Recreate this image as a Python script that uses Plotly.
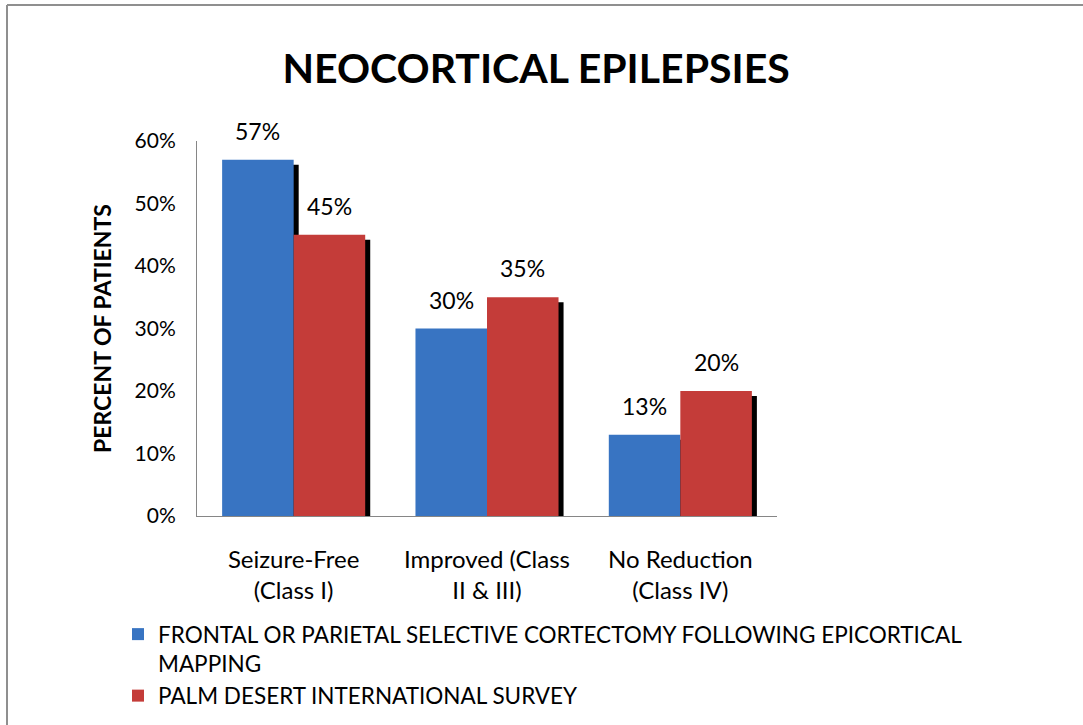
import plotly.graph_objects as go

categories = ["Seizure-Free<br>(Class I)", "Improved (Class<br>II & III)", "No Reduction<br>(Class IV)"]
series_names = ["FRONTAL OR PARIETAL SELECTIVE CORTECTOMY FOLLOWING EPICORTICAL<br>MAPPING",
                "PALM DESERT INTERNATIONAL SURVEY"]
frontal = [0.57, 0.30, 0.13]
palm = [0.45, 0.35, 0.20]
y_ticks = [0, 0.1, 0.2, 0.3, 0.4, 0.5, 0.6]

FONT = "Lato"
colors = ["#3874C2", "#C43C39"]
W = 0.37
SH = 0.026
SHY = 0.008
xs = list(range(len(categories)))

fig = go.Figure()
for i, (vals, name, col) in enumerate([(frontal, series_names[0], colors[0]), (palm, series_names[1], colors[1])]):
    off = -W if i == 0 else 0
    fig.add_trace(go.Bar(x=xs, y=[v - SHY for v in vals], width=W, offset=off + SH,
                         marker=dict(color="black", line_width=0), showlegend=False, hoverinfo="skip"))
    fig.add_trace(go.Bar(x=xs, y=vals, width=W, offset=off, name=name,
                         marker=dict(color=col, line_width=0)))
    for x, v in zip(xs, vals):
        fig.add_annotation(x=x, y=v, text=f"{round(v*100)}%", showarrow=False,
                           xshift=(-W / 2 if i == 0 else W / 2) * 193.3, yshift=29,
                           font=dict(family=FONT, size=23, color="#000"))

PL, PW, PB, PH = 197, 580, 516, 375
fig.update_layout(
    width=1083, height=725,
    margin=dict(l=197, r=306, t=141, b=209, autoexpand=False),
    barmode="overlay",
    paper_bgcolor="white", plot_bgcolor="white",
    title=dict(text="<b>NEOCORTICAL EPILEPSIES</b>", x=0.495, xanchor="center", y=0.905, yanchor="middle",
               font=dict(family=FONT, size=41, color="#000")),
    font=dict(family=FONT, size=21, color="#000"),
    xaxis=dict(range=[-0.5, 2.5], tickvals=xs, ticktext=categories, showline=True, linecolor="#868686",
               linewidth=1, showgrid=False, zeroline=False, ticks="", tickfont=dict(size=24),
               ticklabelstandoff=22, automargin=False),
    yaxis=dict(range=[0, 0.6], tickvals=y_ticks, tickformat=".0%", showline=True, linecolor="#868686",
               linewidth=1, showgrid=False, zeroline=False, ticks="", ticklen=0, ticklabelstandoff=16,
               title=dict(text="<b>PERCENT OF PATIENTS</b>", font=dict(size=23), standoff=16),
               tickfont=dict(size=21), automargin=False),
    legend=dict(x=(118 - PL) / PW, xanchor="left", y=-(613 - PB) / PH, yanchor="top",
                font=dict(family=FONT, size=22.5), tracegroupgap=0, itemclick=False, valign="top"),
    shapes=[
        dict(type="line", xref="paper", yref="paper", x0=(7 - PL) / PW, x1=(1100 - PL) / PW,
             y0=(PB - 5) / PH, y1=(PB - 5) / PH, line=dict(color="#8f8f8f", width=2)),
        dict(type="line", xref="paper", yref="paper", x0=(7 - PL) / PW, x1=(7 - PL) / PW,
             y0=(PB - 5) / PH, y1=(PB - 760) / PH, line=dict(color="#8f8f8f", width=2)),
    ],
)
fig.write_html("out.html", config={"displayModeBar": False},
               post_script="document.body.style.margin='0px';")
